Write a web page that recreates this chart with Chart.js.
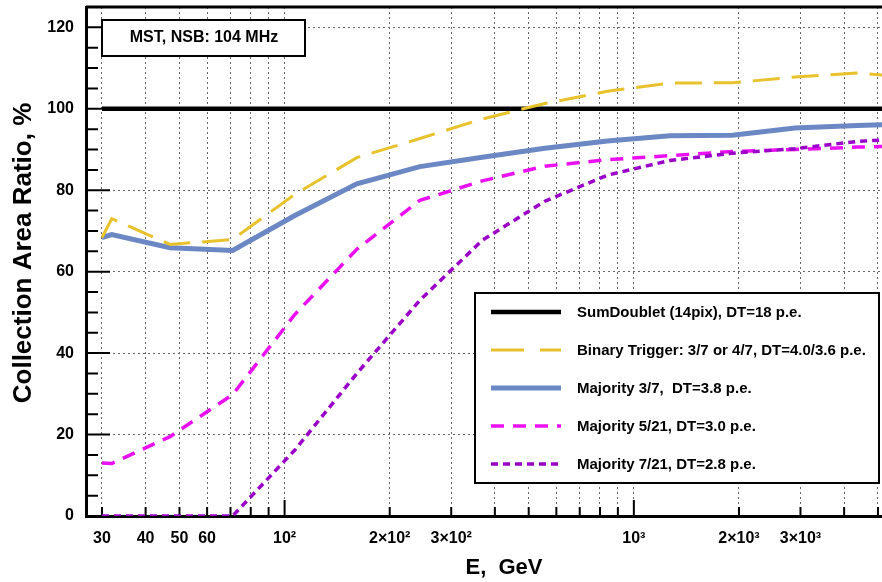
<!DOCTYPE html>
<html>
<head>
<meta charset="utf-8">
<script src="https://cdn.jsdelivr.net/npm/chart.js@4.4.1/dist/chart.umd.min.js"></script>
<style>
  html, body { margin: 0; padding: 0; background: #fff; }
  #wrap { width: 882px; height: 582px; }
</style>
</head>
<body>
<div id="wrap"><canvas id="chart" width="882" height="582"></canvas></div>
<script>
// ── Collection area ratio vs energy (MST, NSB 104 MHz) ──

// energy bins, GeV
const energies = [30, 32, 47, 71, 107, 161, 244, 368, 556, 840, 1268, 1915, 2893, 4370, 6600];

// ratio to reference, %
const sumDoublet  = [100, 100, 100, 100, 100, 100, 100, 100, 100, 100, 100, 100, 100, 100, 100];
const binaryTrig  = [68.4, 73.0, 66.7, 67.9, 79.0, 88.0, 92.7, 97.5, 101.3, 104.3, 106.3, 106.4, 107.8, 108.8, 107.5];
const majority37  = [68.4, 69.1, 65.9, 65.2, 73.8, 81.6, 85.8, 88.1, 90.3, 92.1, 93.4, 93.5, 95.3, 95.9, 96.3];
const majority521 = [13.0, 12.9, 19.5, 29.8, 49.5, 65.5, 77.5, 82.3, 85.9, 87.5, 88.5, 89.5, 90.0, 90.6, 90.9];
const majority721 = [0, 0, 0, 0, 16.2, 35.0, 53.0, 67.7, 77.3, 83.7, 87.3, 89.1, 90.2, 92.0, 92.8];

// x axis ticks
const xTickValues = [30, 40, 50, 60, 70, 80, 90, 100, 200, 300, 400, 500, 600, 700, 800, 900,
                     1000, 2000, 3000, 4000, 5000];
const xTickLabels = ['30', '40', '50', '60', '', '', '', '10²', '2×10²', '3×10²', '', '', '', '', '', '',
                     '10³', '2×10³', '3×10³', '', ''];

const FONT = '"Liberation Sans", Arial, Helvetica, sans-serif';

function pts(values) {
  return energies.map((e, i) => ({ x: e, y: values[i] }));
}

// ticks point inward like in the original plot
const innerTicks = {
  id: 'innerTicks',
  beforeDatasetsDraw(chart) {
    const { ctx, chartArea: a, scales: { x, y } } = chart;
    ctx.save();
    ctx.strokeStyle = '#000';
    ctx.lineWidth = 2;
    ctx.beginPath();
    x.ticks.forEach(t => {
      const px = x.getPixelForValue(t.value);
      const dec = Math.abs(Math.log10(t.value) % 1) < 1e-9;
      ctx.moveTo(px, a.bottom);
      ctx.lineTo(px, a.bottom - (dec ? 16 : 9));
    });
    y.ticks.forEach(t => {
      const py = y.getPixelForValue(t.value);
      ctx.moveTo(a.left, py);
      ctx.lineTo(a.left + (t.value % 20 === 0 ? 24 : 12), py);
    });
    ctx.stroke();
    // top frame
    ctx.lineWidth = 3;
    ctx.beginPath();
    ctx.moveTo(a.left, a.top);
    ctx.lineTo(a.right, a.top);
    ctx.stroke();
    ctx.restore();
  }
};

// boxed legend + label box + axis titles
const boxes = {
  id: 'boxes',
  afterDraw(chart) {
    const ctx = chart.ctx;
    ctx.save();
    ctx.lineWidth = 2;
    ctx.strokeStyle = '#000';
    ctx.fillStyle = '#fff';

    // info box
    ctx.fillRect(102, 20, 203, 36);
    ctx.strokeRect(102, 20, 203, 36);
    ctx.fillStyle = '#000';
    ctx.font = 'bold 16px ' + FONT;
    ctx.textAlign = 'center';
    ctx.textBaseline = 'middle';
    ctx.fillText('MST, NSB: 104 MHz', 204, 38);

    // legend
    ctx.fillStyle = '#fff';
    ctx.fillRect(475, 293, 404, 190);
    ctx.strokeRect(475, 293, 404, 190);
    ctx.font = 'bold 15px ' + FONT;
    ctx.textAlign = 'left';
    chart.data.datasets.forEach((ds, i) => {
      const ly = 312 + i * 38;
      ctx.save();
      ctx.strokeStyle = ds.borderColor;
      ctx.lineWidth = ds.borderWidth;
      ctx.setLineDash(ds.legendDash || ds.borderDash || []);
      ctx.beginPath();
      ctx.moveTo(491, ly);
      ctx.lineTo(561, ly);
      ctx.stroke();
      ctx.restore();
      ctx.fillStyle = '#000';
      ctx.fillText(ds.label, 577, ly + 1);
    });

    // axis titles
    ctx.font = 'bold 22px ' + FONT;
    ctx.textAlign = 'center';
    ctx.fillText('E,  GeV', 504, 568);

    ctx.save();
    ctx.translate(24, 253);
    ctx.rotate(-Math.PI / 2);
    ctx.font = 'bold 26px ' + FONT;
    ctx.fillText('Collection Area Ratio, %', 0, 0);
    ctx.restore();
    ctx.restore();
  }
};

new Chart(document.getElementById('chart'), {
  type: 'line',
  data: {
    datasets: [
      { label: 'SumDoublet (14pix), DT=18 p.e.', data: pts(sumDoublet),
        borderColor: '#000', borderWidth: 4.5, order: 1 },
      { label: 'Binary Trigger: 3/7 or 4/7, DT=4.0/3.6 p.e.', data: pts(binaryTrig),
        borderColor: '#E8C22C', borderWidth: 3, borderDash: [27, 12], legendDash: [33, 16], order: 0 },
      { label: 'Majority 3/7,  DT=3.8 p.e.', data: pts(majority37),
        borderColor: '#6B88C4', borderWidth: 5, order: 2 },
      { label: 'Majority 5/21, DT=3.0 p.e.', data: pts(majority521),
        borderColor: '#EA10F2', borderWidth: 3.5, borderDash: [13, 9], order: 4 },
      { label: 'Majority 7/21, DT=2.8 p.e.', data: pts(majority721),
        borderColor: '#9A00C8', borderWidth: 3.5, borderDash: [7, 5], order: 3 }
    ]
  },
  options: {
    responsive: false,
    animation: false,
    layout: { padding: { top: 7, right: 0, bottom: 0, left: 0 } },
    elements: { point: { radius: 0 }, line: { tension: 0 } },
    plugins: { legend: { display: false }, tooltip: { enabled: false } },
    scales: {
      x: {
        type: 'logarithmic',
        min: 27,
        max: 5135,
        afterBuildTicks: s => { s.ticks = xTickValues.map(v => ({ value: v })); },
        afterFit: s => { s.height = 66; s.paddingLeft = 0; s.paddingRight = 0; },
        grid: { color: '#666', lineWidth: 1, drawTicks: false },
        border: { color: '#000', width: 3, dash: [2, 3] },
        ticks: {
          autoSkip: false, maxRotation: 0, padding: 13, color: '#000',
          font: { family: FONT, size: 16, weight: 'bold' },
          callback: (v, i) => xTickLabels[i]
        }
      },
      y: {
        min: 0,
        max: 125,
        afterFit: s => { s.width = 86; s.paddingTop = 0; s.paddingBottom = 0; },
        grid: {
          lineWidth: 1, drawTicks: false,
          color: c => (c.tick && c.tick.value > 0 && c.tick.value % 20 === 0) ? '#666' : 'rgba(0,0,0,0)'
        },
        border: { color: '#000', width: 3, dash: [2, 3] },
        ticks: {
          stepSize: 5, autoSkip: false, padding: 12, color: '#000',
          font: { family: FONT, size: 16, weight: 'bold' },
          callback: v => (v % 20 === 0 ? String(v) : '')
        }
      }
    }
  },
  plugins: [innerTicks, boxes]
});
</script>
</body>
</html>
